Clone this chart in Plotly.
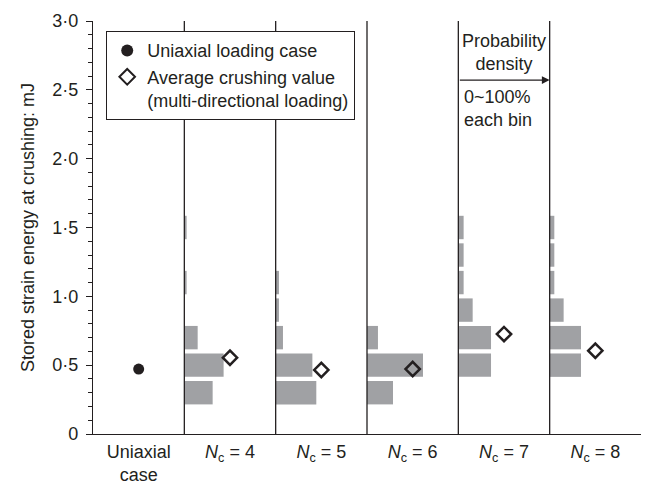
import plotly.graph_objects as go

# ---- data ----
panels = ["Uniaxial<br>case", "<i>N</i><sub>c</sub> = 4", "<i>N</i><sub>c</sub> = 5",
          "<i>N</i><sub>c</sub> = 6", "<i>N</i><sub>c</sub> = 7", "<i>N</i><sub>c</sub> = 8"]
bin_centers = [0.3, 0.5, 0.7, 0.9, 1.1, 1.3, 1.5]
hist_nc4 = [31.0, 43.0, 14.6, 0.0, 2.5, 0.0, 2.5]
hist_nc5 = [44.5, 40.2, 8.0, 3.6, 3.6, 0.0, 0.0]
hist_nc6 = [28.5, 61.3, 12.0, 0.0, 0.0, 0.0, 0.0]
hist_nc7 = [0.0, 35.8, 35.8, 15.7, 5.8, 5.8, 5.8]
hist_nc8 = [0.0, 34.3, 34.3, 15.3, 5.1, 5.1, 5.1]
uniaxial_value = [0.472]
average_values = [0.554, 0.465, 0.472, 0.726, 0.605]
y_ticks = [0, 0.5, 1.0, 1.5, 2.0, 2.5, 3.0]
y_ticktext = ["0", "0·5", "1·0", "1·5", "2·0", "2·5", "3·0"]

hists = [hist_nc4, hist_nc5, hist_nc6, hist_nc7, hist_nc8]

BAR = "#a0a1a4"
INK = "#231f20"
FONT = "Liberation Sans, Arial, sans-serif"
FS = 18

fig = go.Figure()

for i, h in enumerate(hists):
    left = i + 1
    xs = [v / 100.0 for v in h]
    fig.add_trace(go.Bar(
        orientation="h", y=bin_centers, x=xs, base=left, width=0.17,
        marker=dict(color=BAR, line=dict(width=0)), showlegend=False,
        hoverinfo="skip"))

fig.add_trace(go.Scatter(
    x=[0.5], y=uniaxial_value, mode="markers", name="Uniaxial loading case",
    marker=dict(symbol="circle", size=11, color=INK)))
fig.add_trace(go.Scatter(
    x=[i + 1.5 for i in range(len(average_values))], y=average_values, mode="markers",
    name="Average crushing value<br>(multi-directional loading)",
    marker=dict(symbol="diamond-open", size=11, color=INK, line=dict(width=2.5, color=INK))))

# panel separators
for k in range(1, 6):
    fig.add_shape(type="line", x0=k, x1=k, y0=0, y1=3, xref="x", yref="y",
                  line=dict(color=INK, width=1.3), layer="above")

# probability density note
fig.add_annotation(x=4.5, y=2.773, xref="x", yref="y", text="Probability<br>density",
                   showarrow=False, font=dict(size=FS, color=INK, family=FONT), align="center")
fig.add_annotation(x=5, y=2.571, ax=4, ay=2.571, xref="x", yref="y", axref="x", ayref="y",
                   text="", showarrow=True, arrowhead=2, arrowsize=1.2, arrowwidth=1.3,
                   arrowcolor=INK, standoff=0, startstandoff=0)
fig.add_annotation(x=4.04, y=2.364, xref="x", yref="y", text="0~100%<br>each bin",
                   showarrow=False, xanchor="left", align="left",
                   font=dict(size=FS, color=INK, family=FONT))

fig.update_layout(
    width=647, height=481,
    margin=dict(l=93, r=6, t=21, b=47),
    paper_bgcolor="white", plot_bgcolor="white",
    font=dict(family=FONT, size=FS, color=INK),
    barmode="overlay",
    legend=dict(x=(106 - 93) / 548, y=(434 - 31) / 413, xanchor="left", yanchor="top",
                bgcolor="white", bordercolor=INK, borderwidth=1.2,
                font=dict(size=FS, color=INK, family=FONT), valign="top",
                itemsizing="constant", tracegroupgap=0),
    xaxis=dict(range=[0, 6], showgrid=False, zeroline=False, showline=True,
               linecolor=INK, linewidth=1.3, ticks="", automargin=False,
               tickvals=[0.5, 1.5, 2.5, 3.5, 4.5, 5.5], ticktext=panels,
               ticklabelstandoff=1,
               tickfont=dict(size=FS, color=INK)),
    yaxis=dict(range=[0, 3], showgrid=False, zeroline=False, showline=True,
               linecolor=INK, linewidth=1.3, ticks="outside", ticklen=6, tickwidth=1,
               tickcolor=INK, tickvals=y_ticks, ticktext=y_ticktext, automargin=False,
               ticklabelstandoff=4,
               minor=dict(dtick=0.1, ticks="outside", ticklen=4, tickcolor=INK, tickwidth=1),
               title=dict(text="Stored strain energy at crushing: mJ", standoff=12,
                          font=dict(size=FS, color=INK)),
               tickfont=dict(size=FS, color=INK)),
)

fig.write_html("out.html")
